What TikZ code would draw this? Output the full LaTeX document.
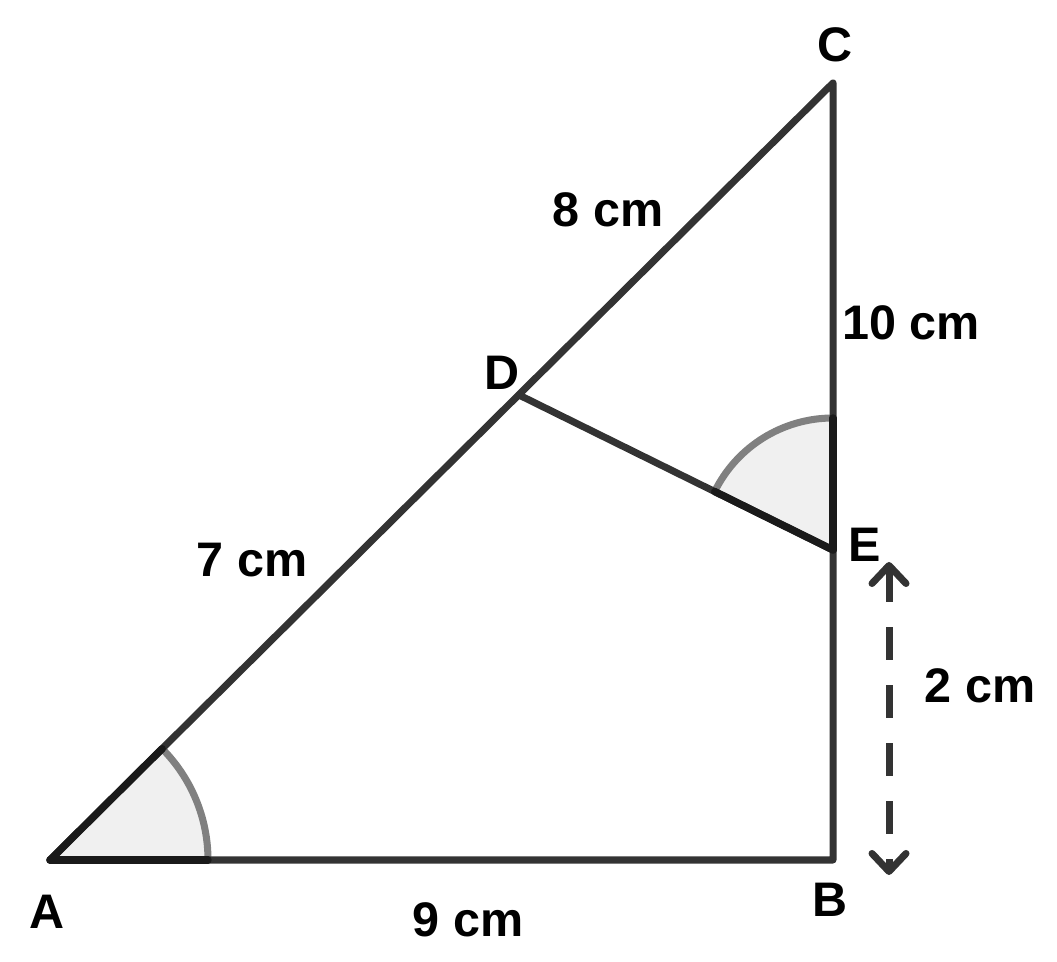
\documentclass[tikz,border=0pt]{standalone}
\usepackage{fontspec}
\setmainfont{Liberation Sans}
\usetikzlibrary{arrows.meta}

\definecolor{edgegray}{HTML}{333333}
\definecolor{sectorfill}{HTML}{F0F0F0}
\definecolor{arcgray}{HTML}{808080}
\definecolor{sectoredge}{HTML}{1A1A1A}

\tikzset{
  side/.style={draw=edgegray, line width=2pt, line cap=round, line join=round},
  arcline/.style={draw=arcgray, line width=2pt},
  darkedge/.style={draw=sectoredge, line width=2.1pt, line cap=round},
  lbl/.style={font=\fontsize{13.8}{16}\selectfont\bfseries, inner sep=0pt},
  measure/.style={draw=edgegray, line width=2pt, dash pattern=on 0.33cm off 0.25cm,
    {Straight Barb[length=1.8mm,width=3.4mm,round]}-{Straight Barb[length=1.8mm,width=3.4mm,round]}}
}

\begin{document}
\begin{tikzpicture}
      \useasboundingbox (0,0) rectangle (10.57,9.62);
      % corners
      \coordinate (A) at (0.50,1.02);
      \coordinate (B) at (8.33,1.02);
      \coordinate (C) at (8.33,8.79);
      \coordinate (D) at (5.19,5.67);
      \coordinate (E) at (8.33,4.12);

      % shaded angles
      \fill[sectorfill] (A) -- ++(0:1.58) arc (0:44.78:1.58) -- cycle;
      \fill[sectorfill] (E) -- ++(90:1.32) arc (90:153.7:1.32) -- cycle;
      \draw[arcline] (A) ++(0:1.58) arc (0:44.78:1.58);
      \draw[arcline] (E) ++(90:1.32) arc (90:153.7:1.32);

      % triangle and DE
      \draw[side] (A) -- (B) -- (C) -- cycle;
      \draw[side] (D) -- (E);
      \draw[darkedge] (A) -- ++(0:1.58);
      \draw[darkedge] (A) -- ++(44.78:1.58);
      \draw[darkedge] (E) -- ++(90:1.32);
      \draw[darkedge] (E) -- ++(153.7:1.32);

      % measure arrow
      \coordinate (M1) at (8.89,4.00);
      \coordinate (M2) at (8.89,0.87);
      \draw[measure] (M1) -- (M2);

      % labels
      \node[lbl] (lA) at (0.47,0.50) {A};
      \node[lbl] (lB) at (8.30,0.62) {B};
      \node[lbl] (lC) at (8.35,9.17) {C};
      \node[lbl] (lD) at (5.02,5.89) {D};
      \node[lbl] (lE) at (8.65,4.17) {E};
      \node[lbl] (lAC2) at (6.08,7.52) {8 cm};
      \node[lbl] (lBC) at (9.11,6.39) {10 cm};
      \node[lbl] (lAC1) at (2.52,4.02) {7 cm};
      \node[lbl] (lBE) at (9.80,2.76) {2 cm};
      \node[lbl] (lAB) at (4.68,0.42) {9 cm};
\end{tikzpicture}
\end{document}
